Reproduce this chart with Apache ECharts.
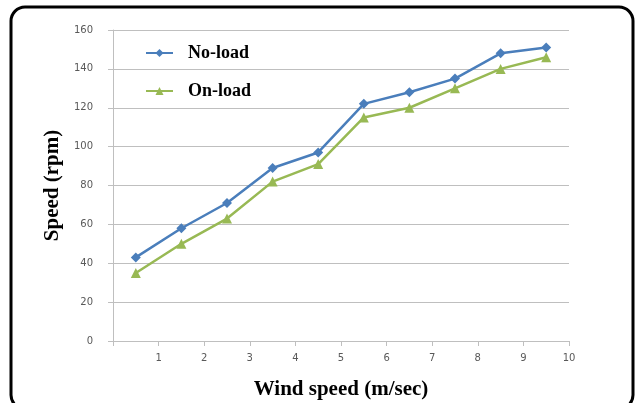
<!DOCTYPE html>
<html>
<head>
<meta charset="utf-8">
<script src="https://cdn.jsdelivr.net/npm/echarts@6/dist/echarts.min.js"></script>
<style>
  html, body { margin: 0; padding: 0; background: #fff; }
  #chart { width: 643px; height: 403px; }
</style>
</head>
<body>
<div id="chart"></div>
<script>
// wind speed (m/sec) at each measurement
const windSpeed = [0.5, 1.5, 2.5, 3.5, 4.5, 5.5, 6.5, 7.5, 8.5, 9.5];
const noLoad = [43, 58, 71, 89, 97, 122, 128, 135, 148, 151];
const onLoad = [35, 50, 63, 82, 91, 115, 120, 130, 140, 146];
const seriesNames = ['No-load', 'On-load'];

const pairs = (ys) => windSpeed.map((x, i) => [x, ys[i]]);

const chart = echarts.init(document.getElementById('chart'));
const axisGrey = '#bfbfbf';
const labelGrey = '#595959';

chart.setOption({
  animation: false,
  backgroundColor: '#fff',
  grid: { left: 113, right: 74, top: 30, bottom: 62, outerBoundsMode: 'none', containLabel: false },
  legend: {
    orient: 'vertical',
    left: 140,
    top: 38,
    itemWidth: 27,
    itemHeight: 10,
    itemGap: 18,
    data: seriesNames,
    textStyle: {
      fontFamily: 'Liberation Serif',
      fontWeight: 'bold',
      fontSize: 18,
      color: '#000',
      lineHeight: 20,
      padding: [0, 0, 0, 10]
    }
  },
  xAxis: {
    type: 'value',
    min: 0,
    max: 10,
    interval: 1,
    name: 'Wind speed (m/sec)',
    nameLocation: 'middle',
    nameGap: 38,
    nameTextStyle: { fontFamily: 'Liberation Serif', fontWeight: 'bold', fontSize: 21, color: '#000' },
    splitLine: { show: false },
    axisLine: { show: true, lineStyle: { color: axisGrey, width: 1 } },
    axisTick: { show: true, length: 5, lineStyle: { color: axisGrey } },
    axisLabel: {
      color: labelGrey, fontSize: 10, margin: 12, fontFamily: 'DejaVu Sans',
      formatter: v => (v === 0 ? '' : v)
    }
  },
  yAxis: {
    type: 'value',
    min: 0,
    max: 160,
    interval: 20,
    name: 'Speed (rpm)',
    nameLocation: 'middle',
    nameGap: 44,
    nameTextStyle: { fontFamily: 'Liberation Serif', fontWeight: 'bold', fontSize: 21, color: '#000' },
    splitLine: { show: true, lineStyle: { color: axisGrey, width: 1 } },
    axisLine: { show: true, lineStyle: { color: axisGrey, width: 1 } },
    axisTick: { show: true, length: 5, lineStyle: { color: axisGrey } },
    axisLabel: { color: labelGrey, fontSize: 10, margin: 20, fontFamily: 'DejaVu Sans' }
  },
  series: [{
    name: seriesNames[0],
    type: 'line',
    data: pairs(noLoad),
    symbol: 'diamond',
    symbolSize: 10,
    lineStyle: { color: '#4a7ebb', width: 2.5 },
    itemStyle: { color: '#4a7ebb' }
  }, {
    name: seriesNames[1],
    type: 'line',
    data: pairs(onLoad),
    symbol: 'triangle',
    symbolSize: 10,
    lineStyle: { color: '#98b954', width: 2.5 },
    itemStyle: { color: '#98b954' }
  }],
  graphic: [{
    type: 'rect',
    silent: true,
    shape: { x: 11, y: 7, width: 622, height: 402, r: 14 },
    style: { fill: 'none', stroke: '#000', lineWidth: 3 }
  }]
});
</script>
</body>
</html>
